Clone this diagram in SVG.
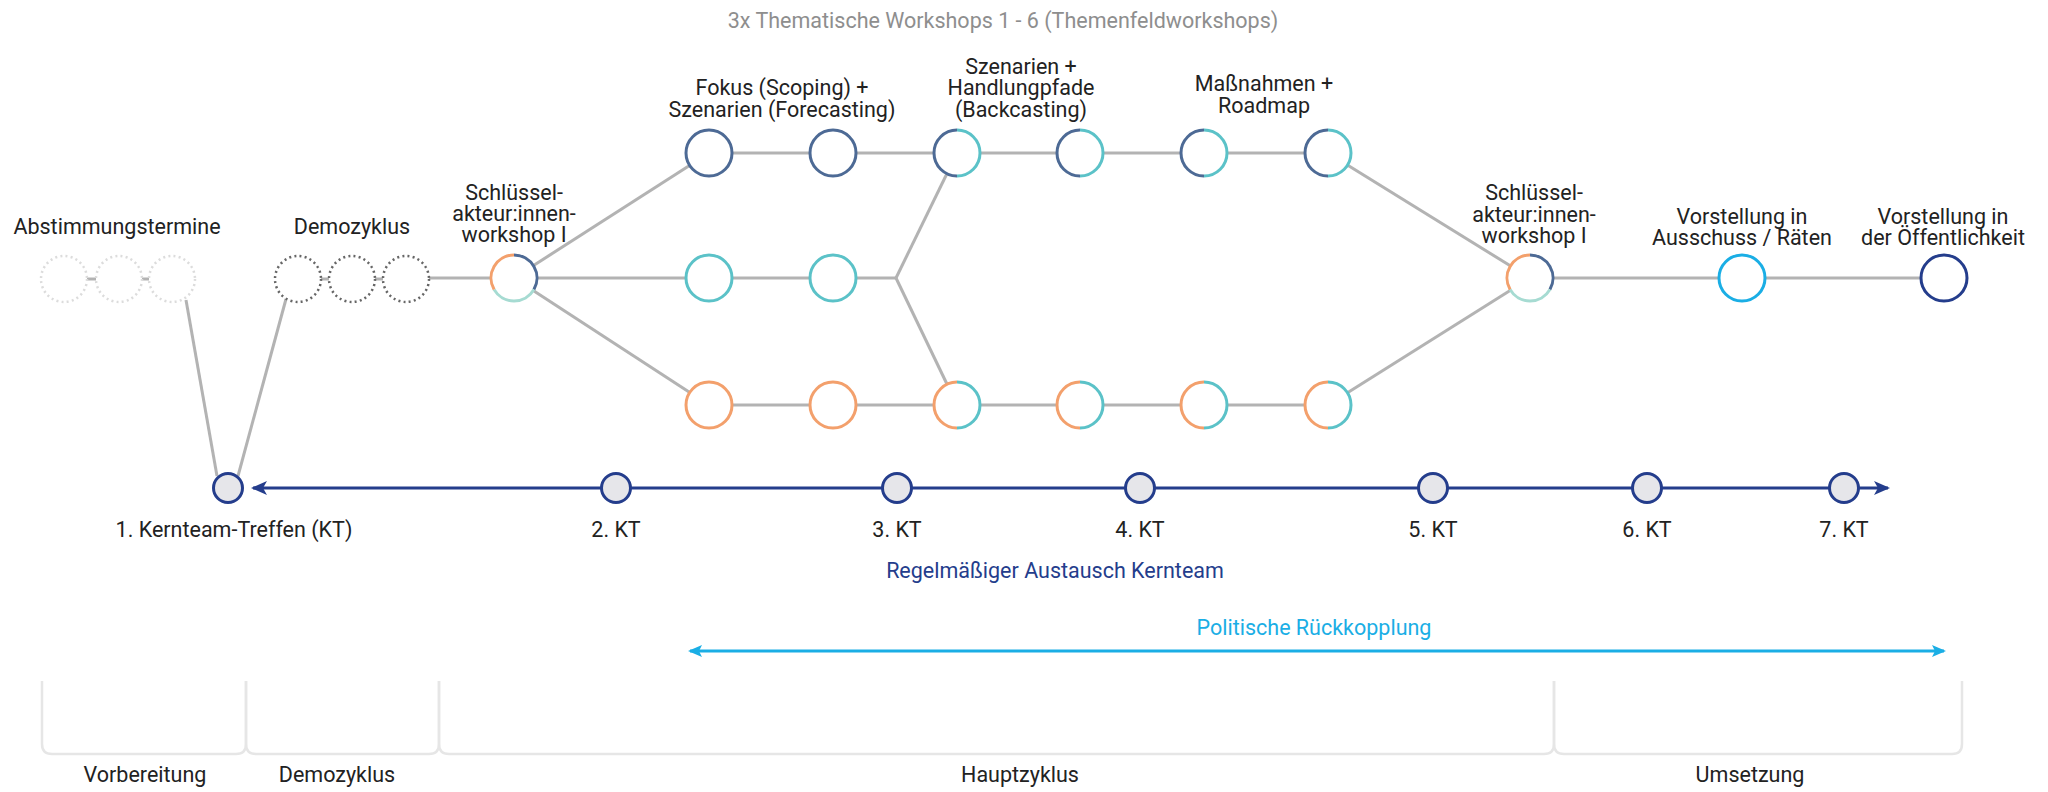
<svg xmlns="http://www.w3.org/2000/svg" xmlns:xlink="http://www.w3.org/1999/xlink" width="2048" height="792" viewBox="0 0 2048 792">
  <style>
    text { font-family: Roboto, "Liberation Sans", sans-serif; font-size: 21.5px; fill: #222; text-anchor: middle; }
    .title { fill: #8e8e8e; font-size: 21.5px; }
    .navy-t { fill: #243d8c; }
    .blue-t { fill: #1aaee5; }
    .link { stroke: #b3b3b3; stroke-width: 3; fill: none; }
    .ring { fill: #fff; stroke-width: 3; }
    .arc { fill: none; stroke-width: 3; }
    .slate { stroke: #4d6a95; }
    .teal { stroke: #5bc2c8; }
    .orange { stroke: #f3a06c; }
    .mint { stroke: #a6dbd2; }
    .kt { fill: #e6e6ea; stroke: #243d8c; stroke-width: 3; }
    .bracket { fill: none; stroke: #e6e6e6; stroke-width: 2.5; }
    .dot-light { fill: none; stroke: #dcdcdc; stroke-width: 2.5; stroke-dasharray: 2 3.2; }
    .dot-dark { fill: none; stroke: #666; stroke-width: 2.5; stroke-dasharray: 2 3.2; }
  </style>
  <defs>
    <marker id="arrow-navy" viewBox="0 0 16 14" refX="14" refY="7" markerWidth="16" markerHeight="14" markerUnits="userSpaceOnUse" orient="auto-start-reverse">
      <path d="M0,0 L16,7 L0,14 L4,7 Z" fill="#243d8c"/>
    </marker>
    <marker id="arrow-blue" viewBox="0 0 14 12" refX="12" refY="6" markerWidth="14" markerHeight="12" markerUnits="userSpaceOnUse" orient="auto-start-reverse">
      <path d="M0,0 L14,6 L0,12 L3,6 Z" fill="#1aaee5"/>
    </marker>
    <!-- workshop ring variants, centred on the origin -->
    <g id="ring-slate"><circle r="23" class="ring slate"/></g>
    <g id="ring-teal"><circle r="23" class="ring teal"/></g>
    <g id="ring-orange"><circle r="23" class="ring orange"/></g>
    <g id="ring-slate-teal">
      <circle r="23" fill="#fff"/>
      <path d="M0,-23 A23,23 0 0 0 0,23" class="arc slate"/>
      <path d="M0,-23 A23,23 0 0 1 0,23" class="arc teal"/>
    </g>
    <g id="ring-orange-teal">
      <circle r="23" fill="#fff"/>
      <path d="M0,-23 A23,23 0 0 0 0,23" class="arc orange"/>
      <path d="M0,-23 A23,23 0 0 1 0,23" class="arc teal"/>
    </g>
    <g id="ring-key">
      <circle r="23" fill="#fff"/>
      <path d="M0,-23 A23,23 0 0 1 19.92,11.5" class="arc slate" stroke-width="4"/>
      <path d="M19.92,11.5 A23,23 0 0 1 -19.92,11.5" class="arc mint" stroke-width="4"/>
      <path d="M-19.92,11.5 A23,23 0 0 1 0,-23" class="arc orange" stroke-width="4"/>
    </g>
  </defs>

  <text class="title" x="1003" y="28">3x Thematische Workshops 1 - 6 (Themenfeldworkshops)</text>

  <!-- connectors -->
  <g id="connectors">
    <line class="link" x1="87" y1="279" x2="96" y2="279"/>
    <line class="link" x1="142" y1="279" x2="149" y2="279"/>
    <line class="link" x1="321" y1="279" x2="329" y2="279"/>
    <line class="link" x1="375" y1="279" x2="383" y2="279"/>
    <line class="link" x1="186" y1="300" x2="217" y2="476"/>
    <line class="link" x1="286" y1="299" x2="238" y2="476"/>
    <line class="link" x1="429" y1="278" x2="514" y2="278"/>
    <line class="link" x1="514" y1="278" x2="709" y2="153"/>
    <line class="link" x1="514" y1="278" x2="709" y2="278"/>
    <line class="link" x1="514" y1="278" x2="709" y2="405"/>
    <line class="link" x1="709" y1="153" x2="1328" y2="153"/>
    <line class="link" x1="709" y1="278" x2="896" y2="278"/>
    <line class="link" x1="896" y1="278" x2="957" y2="153"/>
    <line class="link" x1="896" y1="278" x2="957" y2="405"/>
    <line class="link" x1="709" y1="405" x2="1328" y2="405"/>
    <line class="link" x1="1328" y1="153" x2="1530" y2="278"/>
    <line class="link" x1="1328" y1="405" x2="1530" y2="278"/>
    <line class="link" x1="1530" y1="278" x2="1944" y2="278"/>
    <line x1="253" y1="488" x2="1888" y2="488" stroke="#243d8c" stroke-width="3" marker-start="url(#arrow-navy)" marker-end="url(#arrow-navy)"/>
    <line x1="690" y1="651" x2="1944" y2="651" stroke="#1aaee5" stroke-width="3" marker-start="url(#arrow-blue)" marker-end="url(#arrow-blue)"/>
  </g>

  <!-- preparation meetings -->
  <g id="abstimmung">
    <circle cx="64" cy="279" r="23" class="dot-light"/>
    <circle cx="119" cy="279" r="23" class="dot-light"/>
    <circle cx="172" cy="279" r="23" class="dot-light"/>
    <text x="117" y="234">Abstimmungstermine</text>
  </g>

  <g id="demozyklus">
    <circle cx="298" cy="279" r="23" class="dot-dark"/>
    <circle cx="352" cy="279" r="23" class="dot-dark"/>
    <circle cx="406" cy="279" r="23" class="dot-dark"/>
    <text x="352" y="234">Demozyklus</text>
  </g>

  <g id="key-workshop-1">
    <use xlink:href="#ring-key" x="514" y="278"/>
    <text x="514" y="200">Schlüssel-</text>
    <text x="514" y="221">akteur:innen-</text>
    <text x="514" y="242">workshop I</text>
  </g>

  <!-- thematic workshop rows -->
  <g id="ws-top">
    <use xlink:href="#ring-slate" x="709" y="153"/>
    <use xlink:href="#ring-slate" x="833" y="153"/>
    <use xlink:href="#ring-slate-teal" x="957" y="153"/>
    <use xlink:href="#ring-slate-teal" x="1080" y="153"/>
    <use xlink:href="#ring-slate-teal" x="1204" y="153"/>
    <use xlink:href="#ring-slate-teal" x="1328" y="153"/>
  </g>
  <g id="ws-middle">
    <use xlink:href="#ring-teal" x="709" y="278"/>
    <use xlink:href="#ring-teal" x="833" y="278"/>
  </g>
  <g id="ws-bottom">
    <use xlink:href="#ring-orange" x="709" y="405"/>
    <use xlink:href="#ring-orange" x="833" y="405"/>
    <use xlink:href="#ring-orange-teal" x="957" y="405"/>
    <use xlink:href="#ring-orange-teal" x="1080" y="405"/>
    <use xlink:href="#ring-orange-teal" x="1204" y="405"/>
    <use xlink:href="#ring-orange-teal" x="1328" y="405"/>
  </g>

  <g id="label-fokus">
    <text x="782" y="95">Fokus (Scoping) +</text>
    <text x="782" y="117">Szenarien (Forecasting)</text>
  </g>
  <g id="label-szenarien">
    <text x="1021" y="74">Szenarien +</text>
    <text x="1021" y="95">Handlungpfade</text>
    <text x="1021" y="117">(Backcasting)</text>
  </g>
  <g id="label-massnahmen">
    <text x="1264" y="91">Maßnahmen +</text>
    <text x="1264" y="113">Roadmap</text>
  </g>

  <g id="key-workshop-2">
    <use xlink:href="#ring-key" x="1530" y="278"/>
    <text x="1534" y="200">Schlüssel-</text>
    <text x="1534" y="222">akteur:innen-</text>
    <text x="1534" y="243">workshop I</text>
  </g>

  <g id="ausschuss">
    <circle cx="1742" cy="278" r="23" class="ring" stroke="#1aaee5"/>
    <text x="1742" y="224">Vorstellung in</text>
    <text x="1742" y="245">Ausschuss / Räten</text>
  </g>

  <g id="oeffentlichkeit">
    <circle cx="1944" cy="278" r="23" class="ring" stroke="#243d8c"/>
    <text x="1943" y="224">Vorstellung in</text>
    <text x="1943" y="245">der Öffentlichkeit</text>
  </g>

  <!-- core team meetings -->
  <g id="kt-1"><circle cx="228" cy="488" r="14.5" class="kt"/><text x="234" y="537">1. Kernteam-Treffen (KT)</text></g>
  <g id="kt-2"><circle cx="616" cy="488" r="14.5" class="kt"/><text x="616" y="537">2. KT</text></g>
  <g id="kt-3"><circle cx="897" cy="488" r="14.5" class="kt"/><text x="897" y="537">3. KT</text></g>
  <g id="kt-4"><circle cx="1140" cy="488" r="14.5" class="kt"/><text x="1140" y="537">4. KT</text></g>
  <g id="kt-5"><circle cx="1433" cy="488" r="14.5" class="kt"/><text x="1433" y="537">5. KT</text></g>
  <g id="kt-6"><circle cx="1647" cy="488" r="14.5" class="kt"/><text x="1647" y="537">6. KT</text></g>
  <g id="kt-7"><circle cx="1844" cy="488" r="14.5" class="kt"/><text x="1844" y="537">7. KT</text></g>

  <text class="navy-t" x="1055" y="578">Regelmäßiger Austausch Kernteam</text>
  <text class="blue-t" x="1314" y="635">Politische Rückkopplung</text>

  <!-- phase brackets -->
  <g id="phases">
    <path class="bracket" d="M42,681 V744 Q42,754 52,754 H236 Q246,754 246,744 V681"/>
    <path class="bracket" d="M246,681 V744 Q246,754 256,754 H429 Q439,754 439,744 V681"/>
    <path class="bracket" d="M439,681 V744 Q439,754 449,754 H1544 Q1554,754 1554,744 V681"/>
    <path class="bracket" d="M1554,681 V744 Q1554,754 1564,754 H1952 Q1962,754 1962,744 V681"/>
    <text x="145" y="782">Vorbereitung</text>
    <text x="337" y="782">Demozyklus</text>
    <text x="1020" y="782">Hauptzyklus</text>
    <text x="1750" y="782">Umsetzung</text>
  </g>
</svg>
